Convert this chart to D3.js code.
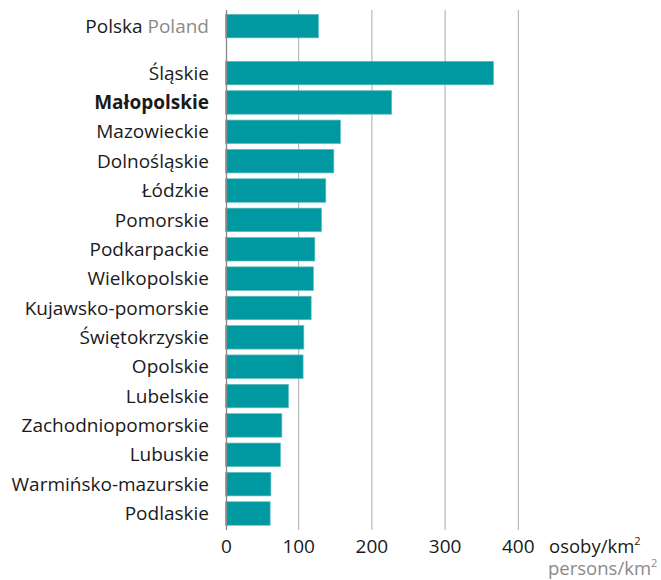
<!DOCTYPE html>
<html>
<head>
<meta charset="utf-8">
<script src="https://cdn.jsdelivr.net/npm/d3@7"></script>
<style>
  body { margin: 0; background: #fff; }
  svg { display: block; font-family: "Open Sans", sans-serif; }
</style>
</head>
<body>
<div id="chart"></div>
<script>
var regions = ['Śląskie', 'Małopolskie', 'Mazowieckie', 'Dolnośląskie', 'Łódzkie', 'Pomorskie',
  'Podkarpackie', 'Wielkopolskie', 'Kujawsko-pomorskie', 'Świętokrzyskie', 'Opolskie',
  'Lubelskie', 'Zachodniopomorskie', 'Lubuskie', 'Warmińsko-mazurskie', 'Podlaskie'];
var values = [366, 227, 157, 148, 137, 131, 122, 120, 117, 107, 106, 86, 77, 75, 62, 61];
var polandValue = 127;
var highlight = 'Małopolskie';
var ticks = [0, 100, 200, 300, 400];

(function () {
  var width = 661;
  var height = 580;
  var barColor = '#0099a1';
  var fontSize = 19;

  var x = d3.scaleLinear().domain([0, 400]).range([225.5, 518.3]);
  var y = d3.scaleBand().domain(regions).range([58.4, 528.2])
      .paddingInner(0.2).paddingOuter(0.1);

  var svg = d3.select('#chart').append('svg')
      .attr('width', width)
      .attr('height', height);

  // gridlines
  svg.append('g').selectAll('line').data(ticks.slice(1)).enter().append('line')
      .attr('x1', function (d) { return x(d); })
      .attr('x2', function (d) { return x(d); })
      .attr('y1', 10).attr('y2', 530)
      .attr('stroke', '#aaa').attr('stroke-width', 1);

  var rows = regions.map(function (r, i) { return { name: r, value: values[i] }; });

  svg.append('g').selectAll('rect').data(rows).enter().append('rect')
      .attr('x', x(0))
      .attr('y', function (d) { return y(d.name); })
      .attr('width', function (d) { return x(d.value) - x(0); })
      .attr('height', y.bandwidth())
      .attr('fill', barColor)
      .attr('stroke', '#5cbdc1').attr('stroke-width', 0.7);

  // Poland total sits 1.6 steps above the first region
  var polandY = y(regions[0]) - 1.6 * y.step();
  svg.append('rect')
      .attr('x', x(0))
      .attr('y', polandY)
      .attr('width', x(polandValue) - x(0))
      .attr('height', y.bandwidth())
      .attr('fill', barColor)
      .attr('stroke', '#5cbdc1').attr('stroke-width', 0.7);

  // zero axis line
  svg.append('line')
      .attr('x1', x(0) + 1).attr('x2', x(0) + 1)
      .attr('y1', 10).attr('y2', 530)
      .attr('stroke', '#888').attr('stroke-width', 1.3);

  var labelX = 209;
  svg.append('g').selectAll('text').data(rows).enter().append('text')
      .attr('x', labelX)
      .attr('y', function (d) { return y(d.name) + y.bandwidth() / 2; })
      .attr('dy', '0.35em')
      .attr('text-anchor', 'end')
      .attr('font-size', fontSize)
      .attr('font-weight', function (d) { return d.name === highlight ? 'bold' : 'normal'; })
      .attr('fill', '#1a1a1a')
      .text(function (d) { return d.name; });

  var pl = svg.append('text')
      .attr('x', labelX)
      .attr('y', polandY + y.bandwidth() / 2)
      .attr('dy', '0.35em')
      .attr('text-anchor', 'end')
      .attr('font-size', fontSize)
      .attr('fill', '#1a1a1a');
  pl.append('tspan').text('Polska ');
  pl.append('tspan').attr('fill', '#8a8a8a').text('Poland');

  svg.append('g').selectAll('text').data(ticks).enter().append('text')
      .attr('x', function (d) { return d === 0 ? x(0) + 1 : x(d); })
      .attr('y', 553)
      .attr('text-anchor', 'middle')
      .attr('font-size', fontSize)
      .attr('fill', '#1a1a1a')
      .text(function (d) { return d; });

  var u1 = svg.append('text').attr('x', 549).attr('y', 553)
      .attr('font-size', 18.5).attr('fill', '#1a1a1a');
  u1.append('tspan').text('osoby/km');
  u1.append('tspan').attr('font-size', 11).attr('dy', -8).text('2');

  var u2 = svg.append('text').attr('x', 548).attr('y', 575)
      .attr('font-size', 18.5).attr('fill', '#8a8a8a');
  u2.append('tspan').text('persons/km');
  u2.append('tspan').attr('font-size', 11).attr('dy', -8).text('2');
})();
</script>
</body>
</html>
